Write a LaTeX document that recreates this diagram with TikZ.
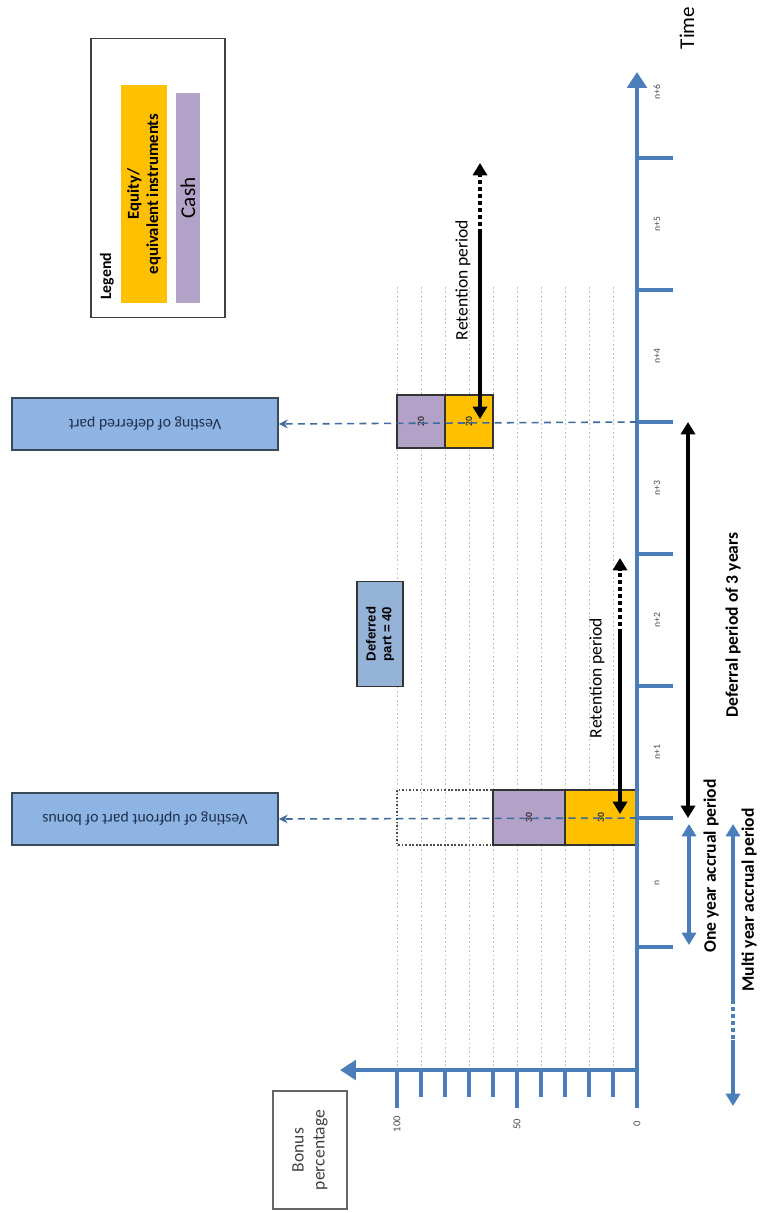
\documentclass[tikz,border=0pt]{standalone}
\usepackage{fontspec}
\setmainfont{Carlito}
\setsansfont{Liberation Sans}
\usetikzlibrary{arrows.meta}
\definecolor{axisblue}{HTML}{4A7EBB}
\definecolor{equityorange}{HTML}{FFC000}
\definecolor{cashpurple}{HTML}{B3A2C7}
\definecolor{vestblue}{HTML}{8EB4E3}
\definecolor{vestedge}{HTML}{3B4A5A}
\definecolor{vesttext}{HTML}{1F3050}
\definecolor{defblue}{HTML}{95B3D7}
\newcommand{\yrlabel}[2]{\node[yrtext] at (657,#1) {#2};}

\begin{document}
\begin{tikzpicture}[x=0.02cm,y=-0.02cm,
  axis/.style={draw=axisblue,line width=2.8pt},
  tickmark/.style={draw=axisblue,line width=2.2pt},
  gridline/.style={draw=black!25,line width=0.4pt,dash pattern=on 1pt off 1.5pt},
  yrtext/.style={rotate=90,font=\fontsize{5.5}{6}\selectfont,text=black!70},
  pctext/.style={rotate=90,font=\fontsize{6}{7}\selectfont,text=black!70},
  barnum/.style={rotate=90,font=\fontsize{5.5}{6}\selectfont\bfseries,text=black!80},
  retarrow/.style={draw=black,line width=2.2pt},
  tip/.style={-{Triangle[width=8pt,length=7pt]}},
  vestbox/.style={draw=vestedge,line width=1pt,fill=vestblue,rotate=180,
    font=\fontsize{9}{10}\selectfont,text=vesttext,
    minimum width=5.32cm,minimum height=1.04cm,inner sep=1pt},
  vestline/.style={draw=axisblue!85!black,line width=0.9pt,dash pattern=on 4pt off 3pt,
    -{Stealth[length=5pt,width=5pt]}},
  lbl/.style={rotate=90,font=\fontsize{10}{11}\selectfont}]
\useasboundingbox (0,0) rectangle (760,1213);

% grid of the bonus levels
\foreach \k in {1,...,10}
  \draw[gridline] ({637-24*\k},287) -- ({637-24*\k},1066);

% bars
\draw[black!70,line width=0.6pt,dash pattern=on 1pt off 1pt] (397,790) rectangle (493,845);
\draw[black!80,line width=0.6pt,fill=cashpurple] (493,790) rectangle (565,845) node[barnum,midway] {30};
\draw[black!80,line width=0.6pt,fill=equityorange] (565,790) rectangle (637,845) node[barnum,midway] {30};
\draw[black!80,line width=0.6pt,fill=cashpurple] (397,395) rectangle (445,448) node[barnum,midway] {20};
\draw[black!80,line width=0.6pt,fill=equityorange] (445,395) rectangle (493,448) node[barnum,midway] {20};

% axes
\draw[axis,-{Triangle[width=11pt,length=9pt]}] (637,1108) -- (637,72);
\draw[axis,-{Triangle[width=11pt,length=9pt]}] (637,1070) -- (340,1070);
\foreach \t in {947,818,686,554,422,290,158}
  \draw[tickmark] (637,\t) -- (673,\t);
\foreach \k in {1,...,4,6,7,8,9}
  \draw[tickmark] ({637-24*\k},1070) -- ({637-24*\k},1097);
\draw[tickmark] (517,1070) -- (517,1108);
\draw[tickmark] (397,1070) -- (397,1108);

\node[pctext] at (637,1124) {0};
\node[pctext] at (517,1124) {50};
\node[pctext] at (397,1124) {100};
\yrlabel{883}{n}
\yrlabel{752}{n+1}
\yrlabel{620}{n+2}
\yrlabel{488}{n+3}
\yrlabel{356}{n+4}
\yrlabel{224}{n+5}
\yrlabel{92}{n+6}
\node[rotate=90,font=\fontsize{12}{13}\selectfont] (time) at (687,28) {Time};

% boxes
\node[draw=black!60,line width=0.6pt,rotate=90,align=center,text=black!75,
  font=\fontsize{10}{12}\selectfont,minimum width=2.36cm,minimum height=1.48cm] (bonus) at (310,1150) {Bonus\\percentage};
\node[vestbox] (vdef) at (145,424) {Vesting of deferred part};
\node[vestbox] (vup) at (145,819) {Vesting of upfront part of bonus};
\node[draw=black!80,line width=0.8pt,fill=defblue,rotate=90,align=center,
  font=\sffamily\fontsize{7.5}{9}\selectfont\bfseries,minimum width=2.1cm,minimum height=0.92cm] (defpart) at (380,634) {Deferred\\part = 40};

% legend
\node[draw=black!75,line width=1pt,minimum width=2.68cm,minimum height=5.58cm] (legend) at (158,178) {};
\node[rotate=90,font=\fontsize{9}{10}\selectfont\bfseries,anchor=west] (legtitle) at (107,306) {Legend};
\node[fill=equityorange,rotate=90,align=center,minimum width=4.38cm,minimum height=0.94cm,inner sep=1pt,
  font=\fontsize{9.5}{11}\selectfont\bfseries] (legeq) at (144,194) {Equity/\\equivalent instruments};
\node[fill=cashpurple,rotate=90,minimum width=4.22cm,minimum height=0.48cm,inner sep=1pt,
  font=\fontsize{12}{13}\selectfont] (legcash) at (188,198) {Cash};

% dashed links to the vesting boxes
\coordinate (t3) at (637,422);
\coordinate (t1) at (637,818);
\draw[vestline] (t3) -- (vdef.west);
\draw[vestline] (t1) -- (vup.west);

% retention periods
\coordinate (ra) at (620,633);
\coordinate (rb) at (620,814);
\coordinate (rc) at (620,558);
\draw[retarrow,tip] (ra) -- (rb);
\draw[retarrow,dash pattern=on 2pt off 2pt,tip] (ra) -- (rc);
\node[lbl] at (597,678) {Retention period};
\coordinate (rd) at (480,233);
\coordinate (re) at (480,419);
\coordinate (rf) at (480,163);
\draw[retarrow,tip] (rd) -- (re);
\draw[retarrow,dash pattern=on 2pt off 2pt,tip] (rd) -- (rf);
\node[lbl] at (463,280) {Retention period};

% periods along the time axis
\coordinate (dp1) at (688,422);
\coordinate (dp2) at (688,818);
\draw[retarrow,line width=2pt,{Triangle[width=8pt,length=7pt]}-{Triangle[width=8pt,length=7pt]}] (dp1) -- (dp2);
\node[lbl,font=\fontsize{10}{11}\selectfont\bfseries] at (733,625) {Deferral period of 3 years};
\coordinate (oy1) at (689,824);
\coordinate (oy2) at (689,945);
\draw[draw=axisblue,line width=2pt,{Triangle[width=8pt,length=7pt]}-{Triangle[width=8pt,length=7pt]}] (oy1) -- (oy2);
\node[lbl,font=\fontsize{10}{11}\selectfont\bfseries] at (711,866) {One year accrual period};
\coordinate (my1) at (733,824);
\coordinate (my2) at (733,1106);
\coordinate (my3) at (733,1000);
\coordinate (my4) at (733,1040);
\draw[draw=axisblue,line width=2pt,{Triangle[width=8pt,length=7pt]}-] (my1) -- (my3);
\draw[draw=axisblue,line width=2pt,dash pattern=on 2pt off 2pt] (my3) -- (my4);
\draw[draw=axisblue,line width=2pt,tip] (my4) -- (my2);
\node[lbl,font=\fontsize{10}{11}\selectfont\bfseries] at (749,900) {Multi year accrual period};
\end{tikzpicture}
\end{document}
